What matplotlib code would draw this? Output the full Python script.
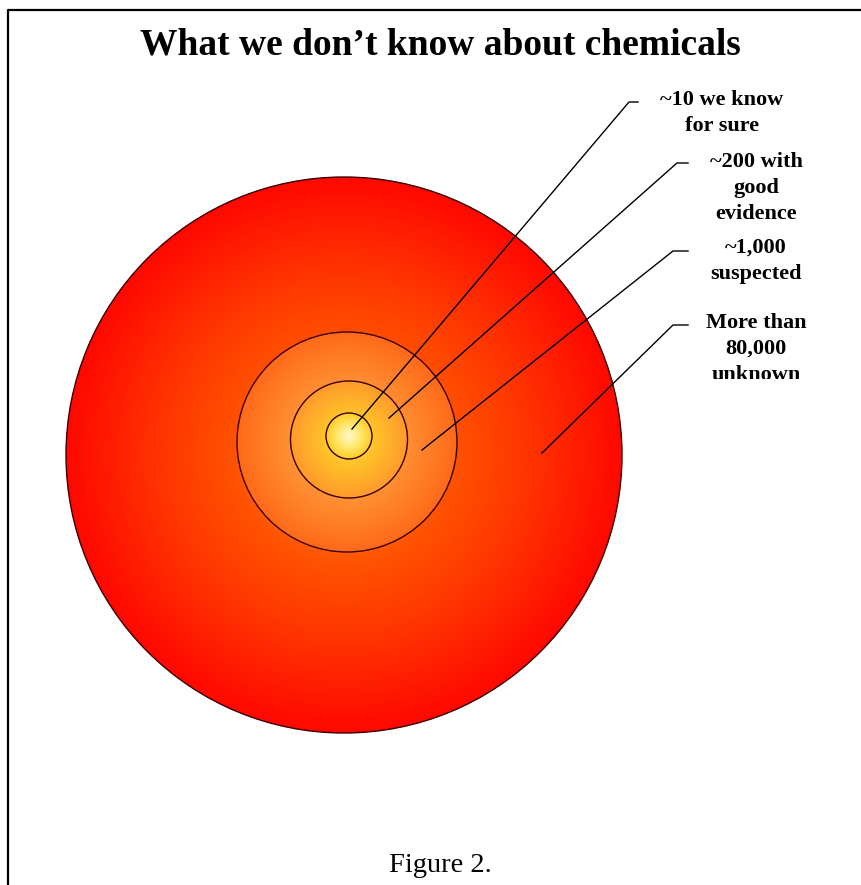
import numpy as np
import matplotlib
matplotlib.use("Agg")
import matplotlib.pyplot as plt
from matplotlib.patches import Circle, Rectangle
from matplotlib.colors import LinearSegmentedColormap

plt.rcParams['font.family'] = ['Liberation Serif', 'DejaVu Serif']

# data: the groups of chemicals, innermost first
group_counts = [10, 200, 1000, 80000]
group_labels = ["~10 we know\nfor sure",
                "~200 with\ngood\nevidence",
                "~1,000\nsuspected",
                "More than\n80,000\nunknown"]
title = "What we don\u2019t know about chemicals"
caption = "Figure 2."

# layout (pixels, figure is 861 x 885)
ring_centers = [(349, 436), (349, 439.5), (347, 442), (344, 455)]
ring_radii = [23, 58.5, 110, 278]
ring_ramps = [
    [(0.0, '#FFFBCB'), (0.5, '#FFE870'), (1.0, '#FFCC22')],
    [(0.0, '#FFE060'), (0.45, '#FFC128'), (1.0, '#FF9A2C')],
    [(0.0, '#FFB040'), (0.55, '#FF8E33'), (1.0, '#FF6A1A')],
    [(0.0, '#FF9A30'), (0.4, '#FF5200'), (0.7, '#FF3000'), (1.0, '#FF0800')],
]
# callout: point in the ring, elbow, end of the short horizontal tick
callouts = [((352, 429), (629, 102), (638, 102)),
            ((389, 418), (677, 163), (688, 163)),
            ((422, 450), (673, 251), (688, 251)),
            ((542, 453), (673, 325), (688, 325))]
label_pos = [(722, 113), (756, 188), (756, 261), (756, 349)]

fig = plt.figure(figsize=(8.61, 8.85), dpi=100)
ax = fig.add_axes([0, 0, 1, 1])
ax.set_xlim(0, 861)
ax.set_ylim(885, 0)
ax.axis('off')

# draw the rings from the outside in, each with its own radial gradient
for (cx, cy), r, ramp in reversed(list(zip(ring_centers, ring_radii, ring_ramps))):
    cmap = LinearSegmentedColormap.from_list('ring', ramp)
    n = 400
    g = np.linspace(-1, 1, n)
    gx, gy = np.meshgrid(g, g)
    d = np.clip(np.sqrt(gx**2 + gy**2), 0, 1)
    im = ax.imshow(d, cmap=cmap, vmin=0, vmax=1, interpolation='bilinear',
                   extent=[cx - r, cx + r, cy + r, cy - r], aspect='auto', zorder=1)
    circ = Circle((cx, cy), r, fc='none', ec='#3a0000', lw=1.0, zorder=2)
    ax.add_patch(circ)
    im.set_clip_path(circ)

ax.set_xlim(0, 861)
ax.set_ylim(885, 0)

for (p0, p1, p2), (tx, ty), lab in zip(callouts, label_pos, group_labels):
    ax.plot([p0[0], p1[0], p2[0]], [p0[1], p1[1], p2[1]], color='black', lw=1.0, zorder=3)
    t = ax.text(tx, ty, lab, ha='center', va='center', fontsize=16,
                fontweight='bold', linespacing=1.42, zorder=4, clip_on=True)
    # the text box of the last label cuts off its bottom
    clip = Rectangle((600, 0), 261, 379, transform=ax.transData)
    t.set_clip_path(clip)

ax.text(440, 45, title, ha='center', va='center', fontsize=27, fontweight='bold')
ax.text(440, 865, caption, ha='center', va='center', fontsize=20.5)

# page frame (right and bottom sides lie outside the picture)
ax.plot([8, 8, 870], [890, 10, 10], color='black', lw=1.6, clip_on=False)

fig.savefig('out.png', dpi=100)
